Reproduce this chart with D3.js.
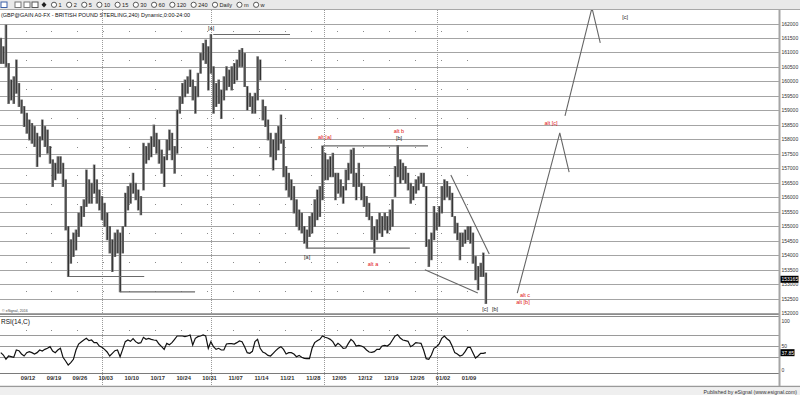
<!DOCTYPE html>
<html>
<head>
<meta charset="utf-8">
<script src="https://cdn.jsdelivr.net/npm/d3@7"></script>
<style>
  body { margin: 0; background: #fff; }
  svg { display: block; font-family: "Liberation Sans", Arial, sans-serif; }
</style>
</head>
<body>
<svg id="chart" width="800" height="395"></svg>
<script>
var hi = [1.6149,1.6120,1.6195,1.6062,1.6005,1.6016,1.6074,1.5993,1.5936,1.5913,
  1.5890,1.5867,1.5855,1.5844,1.5821,1.5809,1.5867,1.5844,1.5832,1.5775,
  1.5729,1.5717,1.5740,1.5740,1.5717,1.5660,1.5499,1.5453,1.5476,1.5487,
  1.5545,1.5568,1.5591,1.5694,1.5660,1.5648,1.5711,1.5660,1.5625,1.5602,
  1.5579,1.5545,1.5499,1.5453,1.5476,1.5487,1.5476,1.5499,1.5614,1.5637,
  1.5648,1.5683,1.5648,1.5625,1.5602,1.5786,1.5775,1.5786,1.5809,1.5849,
  1.5821,1.5798,1.5763,1.5740,1.5798,1.5832,1.5821,1.5775,1.5901,1.5947,
  1.5993,1.6005,1.6016,1.6039,1.6005,1.5982,1.6028,1.6097,1.6131,1.6143,
  1.6120,1.6162,1.6051,1.5993,1.6005,1.5970,1.6016,1.6051,1.6039,1.6051,
  1.6062,1.6074,1.6108,1.6114,1.6097,1.5982,1.5959,1.5947,1.5959,1.6085,
  1.6074,1.5936,1.5913,1.5867,1.5821,1.5798,1.5821,1.5844,1.5884,1.5798,
  1.5706,1.5683,1.5660,1.5637,1.5591,1.5556,1.5545,1.5499,1.5487,1.5533,
  1.5545,1.5591,1.5625,1.5637,1.5777,1.5752,1.5729,1.5740,1.5752,1.5683,
  1.5683,1.5660,1.5637,1.5694,1.5717,1.5763,1.5769,1.5683,1.5717,1.5648,
  1.5637,1.5602,1.5579,1.5533,1.5499,1.5522,1.5545,1.5533,1.5545,1.5533,
  1.5556,1.5591,1.5706,1.5779,1.5729,1.5717,1.5706,1.5683,1.5648,1.5637,
  1.5660,1.5671,1.5683,1.5683,1.5637,1.5453,1.5476,1.5568,1.5545,1.5568,
  1.5637,1.5660,1.5654,1.5637,1.5614,1.5533,1.5510,1.5476,1.5476,1.5487,
  1.5499,1.5499,1.5476,1.5395,1.5361,1.5372,1.5407,1.5338];

var lo = [1.6062,1.6062,1.6051,1.5924,1.5936,1.5924,1.5959,1.5913,1.5890,1.5844,
  1.5821,1.5798,1.5786,1.5775,1.5706,1.5740,1.5798,1.5775,1.5752,1.5717,
  1.5637,1.5660,1.5683,1.5683,1.5637,1.5487,1.5326,1.5372,1.5395,1.5418,
  1.5464,1.5499,1.5533,1.5568,1.5579,1.5579,1.5614,1.5579,1.5556,1.5522,
  1.5499,1.5453,1.5407,1.5343,1.5395,1.5407,1.5273,1.5407,1.5499,1.5556,
  1.5579,1.5614,1.5591,1.5556,1.5539,1.5625,1.5717,1.5729,1.5740,1.5775,
  1.5752,1.5717,1.5683,1.5637,1.5729,1.5763,1.5729,1.5683,1.5752,1.5890,
  1.5924,1.5947,1.5959,1.5982,1.5936,1.5890,1.5947,1.6028,1.6074,1.6062,
  1.5970,1.6028,1.5890,1.5913,1.5924,1.5872,1.5936,1.5970,1.5982,1.5970,
  1.5993,1.6005,1.6051,1.6051,1.5982,1.5901,1.5913,1.5890,1.5890,1.5936,
  1.6005,1.5867,1.5844,1.5798,1.5740,1.5694,1.5729,1.5763,1.5786,1.5671,
  1.5625,1.5602,1.5591,1.5545,1.5499,1.5487,1.5476,1.5441,1.5424,1.5464,
  1.5476,1.5499,1.5522,1.5533,1.5591,1.5660,1.5660,1.5671,1.5671,1.5591,
  1.5614,1.5602,1.5579,1.5625,1.5660,1.5683,1.5637,1.5591,1.5637,1.5591,
  1.5568,1.5533,1.5522,1.5453,1.5407,1.5453,1.5476,1.5464,1.5487,1.5476,
  1.5487,1.5499,1.5602,1.5671,1.5648,1.5660,1.5648,1.5625,1.5579,1.5591,
  1.5614,1.5625,1.5648,1.5637,1.5430,1.5361,1.5384,1.5453,1.5487,1.5499,
  1.5545,1.5591,1.5602,1.5591,1.5533,1.5476,1.5453,1.5384,1.5430,1.5441,
  1.5453,1.5441,1.5372,1.5315,1.5280,1.5326,1.5326,1.5233];

var rsi = [37.9,33.6,25.8,31.8,30.6,29.4,42.7,41.5,35.5,31.8,
  37.9,39.7,37.9,35.5,37.9,42.7,40.9,43.9,45.8,48.8,
  40.9,37.9,42.7,45.8,29.4,22.7,15.5,19.7,25.8,42.7,
  53.6,57.3,60.9,63.9,59.7,60.9,56.1,56.1,50.0,47.6,
  43.9,39.1,31.8,36.7,41.5,42.7,30.6,43.9,57.9,60.9,
  58.5,63.3,57.9,54.8,56.1,65.8,62.1,63.9,62.1,60.9,
  60.3,53.6,48.8,43.9,54.8,52.4,56.1,62.1,68.2,68.2,
  68.2,67.0,68.2,70.0,51.8,63.9,67.0,68.2,70.0,68.2,
  45.8,57.9,48.8,43.9,45.8,42.7,42.7,53.6,54.2,54.2,
  53.6,56.1,59.1,57.9,48.8,37.9,36.7,40.3,57.9,62.1,
  45.8,39.1,36.7,33.0,31.8,36.7,41.5,45.8,48.8,43.9,
  35.5,37.9,37.9,35.5,30.6,33.0,29.4,27.6,27.0,27.0,
  45.8,56.1,59.7,62.1,68.2,65.8,64.5,62.1,57.9,50.0,
  54.8,51.2,45.8,46.4,54.8,62.1,57.9,50.0,51.2,50.0,
  47.6,42.7,39.1,38.5,39.7,43.9,43.9,50.0,51.2,50.0,
  53.6,60.9,68.2,70.6,64.5,60.9,59.7,58.5,48.8,51.8,
  56.1,55.5,54.8,42.7,27.0,25.8,33.6,45.8,48.8,53.6,
  63.9,68.2,63.3,59.7,50.0,37.9,35.5,31.8,33.6,39.7,
  47.6,47.6,37.9,28.2,31.8,36.7,36.7,37.9];

var weekLabels = ['09/12','09/19','09/26','10/03','10/10','10/17','10/24','10/31','11/07',
  '11/14','11/21','11/28','12/05','12/12','12/19','12/26','01/02','01/09'];
var monthBreaks = [14.26, 35.27, 57.05, 78.84];   // trading-day position of month starts
var lastPrice = 1.53165;
var lastRsi = 37.85;

// wave-count annotations (day, price)
var levelLines = [
  {from: 7.9, to: 22.4, p: 1.5326},
  {from: 17.7, to: 32.2, p: 1.5273},
  {from: 35.7, to: 50.5, p: 1.6162},
  {from: 56.9, to: 77.1, p: 1.5777},
  {from: 53.8, to: 73.6, p: 1.5424}
];
var trendLines = [
  [[81.5, 1.5677], [88.9, 1.5404]],
  [[76.5, 1.5349], [86.7, 1.5269]],
  [[94.3, 1.5269], [102.5, 1.5822], [104.3, 1.5687]],
  [[103.5, 1.5881], [108.7, 1.6254], [110.3, 1.6133]]
];
var tags = [
  {t: '[a]', d: 35.3, p: 1.6184, red: false},
  {t: '[a]', d: 53.8, p: 1.5393, red: false},
  {t: 'alt [a]', d: 57.2, p: 1.5808, red: true},
  {t: 'alt b', d: 71.5, p: 1.5829, red: true},
  {t: '[b]', d: 71.5, p: 1.5805, red: false},
  {t: 'alt a', d: 66.5, p: 1.5369, red: true},
  {t: 'alt [c]', d: 100.8, p: 1.5856, red: true},
  {t: 'alt c', d: 95.8, p: 1.5262, red: true},
  {t: 'alt [b]', d: 95.4, p: 1.5238, red: true},
  {t: '[c]', d: 88.1, p: 1.5214, red: false},
  {t: '[b]', d: 90.0, p: 1.5214, red: false},
  {t: '[c]', d: 115.1, p: 1.6222, red: false}
];
var intervals = ['1','2','5','10','15','30','60','120','240','Daily','m','w'];

var svg = d3.select('#chart');
var W = 800, H = 395;
var axisX = 779.5;
var paneTop = 10, paneBot = 314.5;
var rsiTop = 317, rsiBot = 373.5;

var x  = d3.scaleLinear().domain([0, 85]).range([28, 469]);
var y  = d3.scaleLinear().domain([1.52, 1.62]).range([313, 23.5]);
var yr = d3.scaleLinear().domain([0, 100]).range([rsiBot, rsiBot - 55]);

var bars = hi.map(function(h, i) {
  return {day: -5.25 + i * 0.5, hi: h, lo: lo[i], rsi: rsi[i]};
});

var defs = svg.append('defs');
defs.append('clipPath').attr('id', 'mainclip').append('rect')
  .attr('x', 0).attr('y', paneTop).attr('width', axisX).attr('height', paneBot - paneTop);
defs.append('clipPath').attr('id', 'rsiclip').append('rect')
  .attr('x', 0).attr('y', rsiTop).attr('width', axisX).attr('height', rsiBot - rsiTop);

// toolbar
svg.append('rect').attr('x', 0).attr('y', 0).attr('width', W).attr('height', 9.5).attr('fill', '#e9e9e9');
svg.append('line').attr('x1', 0).attr('x2', W).attr('y1', 9.5).attr('y2', 9.5).attr('stroke', '#a8a8a8');
var tb = svg.append('g');
[[1, '#3a5fa8'], [15, '#777'], [24, '#777'], [32, '#555']].forEach(function(ic) {
  tb.append('rect').attr('x', ic[0]).attr('y', 2).attr('width', 6).attr('height', 5.5)
    .attr('fill', '#fff').attr('stroke', ic[1]).attr('stroke-width', 1);
});
tb.append('path').attr('d', 'M44,2 L46.5,4.7 L44,7.4 L41.5,4.7 Z').attr('fill', '#222');
var cur = 54;
intervals.forEach(function(s) {
  tb.append('circle').attr('cx', cur).attr('cy', 4.8).attr('r', 2.6)
    .attr('fill', '#fff').attr('stroke', '#333').attr('stroke-width', 0.8);
  var t = tb.append('text').attr('x', cur + 4.5).attr('y', 7).attr('font-size', 5.6)
    .attr('fill', '#222').text(s);
  cur += 12 + t.node().getComputedTextLength();
});

// title
svg.append('text').attr('x', 1).attr('y', 17).attr('font-size', 6).attr('fill', '#111')
  .attr('textLength', 189).attr('lengthAdjust', 'spacingAndGlyphs')
  .text('(GBP@GAIN A0-FX - BRITISH POUND STERLING,240) Dynamic,0:00-24:00');

// price grid
var pTicks = y.ticks(20);
svg.append('g').selectAll('line').data(pTicks).enter().append('line')
  .attr('x1', 0).attr('x2', axisX).attr('y1', function(d) { return Math.round(y(d)) + 0.5; })
  .attr('y2', function(d) { return Math.round(y(d)) + 0.5; })
  .attr('stroke', '#a4a4a4').attr('stroke-width', 1.2);

// week dots
var dotPrices = d3.range(0, 10).map(function(n) { return 1.6175 - n * 0.01; });
var dots = svg.append('g').attr('fill', '#8a8a8a');
weekLabels.forEach(function(w, i) {
  dotPrices.forEach(function(p) {
    dots.append('rect').attr('x', Math.round(x(i * 5) - 2.5)).attr('y', Math.round(y(p)))
      .attr('width', 1).attr('height', 1);
  });
  dots.append('rect').attr('x', Math.round(x(i * 5) - 2.5)).attr('y', Math.round(yr(80)))
    .attr('width', 1).attr('height', 1);
});

// month separators
svg.append('g').selectAll('line').data(monthBreaks).enter().append('line')
  .attr('x1', function(d) { return Math.round(x(d)) + 0.5; })
  .attr('x2', function(d) { return Math.round(x(d)) + 0.5; })
  .attr('y1', paneTop).attr('y2', 386)
  .attr('stroke', '#9a9a9a').attr('stroke-dasharray', '1,1');

// price bars
var main = svg.append('g').attr('clip-path', 'url(#mainclip)');
main.append('g').selectAll('line').data(bars).enter().append('line')
  .attr('x1', function(d) { return x(d.day); })
  .attr('x2', function(d) { return x(d.day); })
  .attr('y1', function(d) { return y(d.hi) - 0.5; })
  .attr('y2', function(d) { return y(d.lo) + 0.5; })
  .attr('stroke', '#7c7c7c').attr('stroke-width', 2.6);
// thin dark core, like the overlapping OHLC ticks
main.append('g').selectAll('line').data(bars).enter().append('line')
  .attr('x1', function(d) { return x(d.day) + 0.3; })
  .attr('x2', function(d) { return x(d.day) + 0.3; })
  .attr('y1', function(d) { return y(d.hi); })
  .attr('y2', function(d) { return y(d.lo); })
  .attr('stroke', '#1e1e1e').attr('stroke-width', 0.8);

// annotation lines
main.append('g').selectAll('line').data(levelLines).enter().append('line')
  .attr('x1', function(d) { return x(d.from); })
  .attr('x2', function(d) { return x(d.to); })
  .attr('y1', function(d) { return y(d.p); })
  .attr('y2', function(d) { return y(d.p); })
  .attr('stroke', '#6a6a6a').attr('stroke-width', 1.2);

var lineGen = d3.line().x(function(d) { return x(d[0]); }).y(function(d) { return y(d[1]); });
main.append('g').selectAll('path').data(trendLines).enter().append('path')
  .attr('d', lineGen).attr('fill', 'none').attr('stroke', '#666').attr('stroke-width', 1.1);

main.append('g').selectAll('text').data(tags).enter().append('text')
  .attr('x', function(d) { return x(d.d); })
  .attr('y', function(d) { return y(d.p) + 2; })
  .attr('text-anchor', 'middle').attr('font-size', 5.5)
  .attr('fill', function(d) { return d.red ? '#e01010' : '#222'; })
  .text(function(d) { return d.t; });

// pane separators
svg.append('line').attr('x1', 0).attr('x2', axisX).attr('y1', paneBot).attr('y2', paneBot).attr('stroke', '#8c8c8c');
svg.append('line').attr('x1', 0).attr('x2', axisX).attr('y1', rsiTop - 0.5).attr('y2', rsiTop - 0.5).attr('stroke', '#8c8c8c');
svg.append('text').attr('x', 2).attr('y', 312).attr('font-size', 3.6).attr('fill', '#444').text('\u00a9 eSignal, 2016');

// RSI pane
svg.append('text').attr('x', 1).attr('y', 324).attr('font-size', 6.5).attr('fill', '#111').text('RSI(14,C)');
svg.append('g').selectAll('line').data([70, 50, 30]).enter().append('line')
  .attr('x1', 0).attr('x2', axisX)
  .attr('y1', function(d) { return Math.round(yr(d)) + 0.5; })
  .attr('y2', function(d) { return Math.round(yr(d)) + 0.5; })
  .attr('stroke', '#9a9a9a');
svg.append('line').attr('x1', 0).attr('x2', axisX).attr('y1', rsiBot).attr('y2', rsiBot).attr('stroke', '#7a7a7a');

var rsiLine = d3.line().x(function(d) { return x(d.day); }).y(function(d) { return yr(d.rsi); });
svg.append('path').datum(bars).attr('clip-path', 'url(#rsiclip)')
  .attr('d', rsiLine).attr('fill', 'none').attr('stroke', '#111').attr('stroke-width', 1.2);

// date axis
svg.append('g').selectAll('text').data(weekLabels).enter().append('text')
  .attr('x', function(d, i) { return x(i * 5); })
  .attr('y', 380).attr('text-anchor', 'middle').attr('font-size', 5.8)
  .attr('font-weight', 'bold').attr('fill', '#333')
  .text(function(d) { return d; });

// bottom bar
svg.append('line').attr('x1', 0).attr('x2', W).attr('y1', 386.5).attr('y2', 386.5).attr('stroke', '#9a9a9a').attr('stroke-width', 1.5);
svg.append('rect').attr('x', 0).attr('y', 387.5).attr('width', W).attr('height', 7.5).attr('fill', '#efefef');
svg.append('text').attr('x', 797).attr('y', 393.5).attr('text-anchor', 'end').attr('font-size', 5.2)
  .attr('fill', '#333').text('Published by eSignal (www.esignal.com)');

// right axis
svg.append('line').attr('x1', axisX).attr('x2', axisX).attr('y1', paneTop).attr('y2', 386)
  .attr('stroke', '#a5a5a5').attr('stroke-width', 2);
svg.append('g').selectAll('text').data(pTicks).enter().append('text')
  .attr('x', 781.5).attr('y', function(d) { return y(d) + 2; })
  .attr('font-size', 5).attr('fill', '#333')
  .text(function(d) { return d3.format('.0f')(d * 100000); });
[[100, 323], [50, 348], [0, 372]].forEach(function(r) {
  svg.append('text').attr('x', 781.5).attr('y', r[1]).attr('font-size', 5).attr('fill', '#333').text(r[0]);
});

// last value boxes
svg.append('rect').attr('x', 780.5).attr('y', y(lastPrice) - 3.5).attr('width', 18).attr('height', 7).attr('fill', '#000');
svg.append('text').attr('x', 781.5).attr('y', y(lastPrice) + 2).attr('font-size', 5).attr('fill', '#fff')
  .text(d3.format('.0f')(lastPrice * 100000));
svg.append('rect').attr('x', 780.5).attr('y', yr(lastRsi) - 3.5).attr('width', 14).attr('height', 7).attr('fill', '#000');
svg.append('text').attr('x', 781.5).attr('y', yr(lastRsi) + 2).attr('font-size', 5).attr('fill', '#fff')
  .text(d3.format('.2f')(lastRsi));
</script>
</body>
</html>
